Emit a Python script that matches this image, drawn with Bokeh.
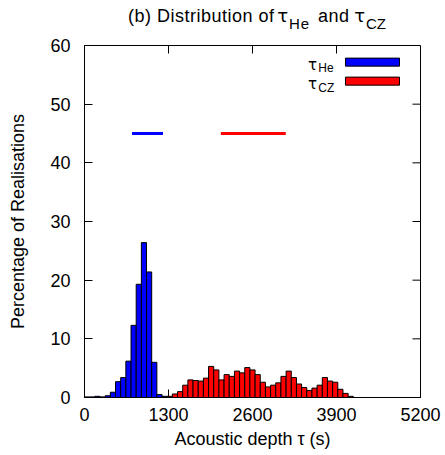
import numpy as np
from bokeh.plotting import figure
from bokeh.layouts import column
from bokeh.models import Range1d, FixedTicker, Label, ColumnDataSource, Div
from bokeh.embed import file_html
from bokeh.resources import INLINE

# ---- data (percentage of realisations per 80 s bin) ----
bin_width = 80
blue_start = 0
tau_he_pct = [0.1, 0.1, 0.2, 0.1, 0.3, 0.9, 2.7, 3.4, 6.2, 12.3, 19.3, 26.4,
              21.4, 6.0, 0.5, 0.2]
red_start = 1280
tau_cz_pct = [0.2, 0.6, 1.0, 2.1, 3.0, 2.9, 2.8, 3.3, 5.3, 4.7, 3.0, 3.9,
              3.6, 4.5, 4.2, 5.1, 4.7, 3.9, 2.6, 1.8, 2.1, 2.5, 3.6, 4.5,
              3.4, 2.3, 1.7, 1.2, 1.6, 2.1, 3.4, 2.8, 2.6, 1.4, 0.7, 0.2,
              0.0, 0.0, 0.0, 0.0, 0.0, 0.0, 0.0, 0.0, 0.0, 0.0, 0.0, 0.0, 0.0]
tau_he_interval = [735, 1215]
tau_cz_interval = [2110, 3115]
interval_level = 45
x_ticks = [0, 1300, 2600, 3900, 5200]
y_ticks = [0, 10, 20, 30, 40, 50, 60]
x_max = 5200
y_max = 60

FONT = "Liberation Sans"
TAU_FONT = "DejaVu Sans"

def edges(start, n):
    left = start + bin_width * np.arange(n)
    return left, left + bin_width

bl, br = edges(blue_start, len(tau_he_pct))
rl, rr = edges(red_start, len(tau_cz_pct))
blue_src = ColumnDataSource(dict(left=bl, right=br, top=tau_he_pct, bottom=[0] * len(bl)))
red_src = ColumnDataSource(dict(left=rl, right=rr, top=tau_cz_pct, bottom=[0] * len(rl)))

p = figure(width=445, height=419, x_range=Range1d(0, x_max), y_range=Range1d(0, y_max),
           output_backend="svg", toolbar_location=None, title=None,
           min_border_left=84, min_border_right=25, min_border_top=9, min_border_bottom=58)
p.xgrid.visible = False
p.ygrid.visible = False
p.outline_line_color = "black"
p.outline_line_width = 1
p.background_fill_color = "white"

for ax, ticks in ((p.xaxis[0], x_ticks), (p.yaxis[0], y_ticks)):
    ax.ticker = FixedTicker(ticks=ticks)
    ax.major_tick_in = 8
    ax.major_tick_out = 0
    ax.minor_tick_in = 0
    ax.minor_tick_out = 0
    ax.axis_line_color = "black"
    ax.major_tick_line_color = "black"
    ax.major_label_text_font = FONT
    ax.major_label_text_font_size = "18px"
    ax.major_label_text_color = "black"
    ax.axis_label_text_font = FONT
    ax.axis_label_text_font_size = "18px"
    ax.axis_label_text_font_style = "normal"
    ax.axis_label_text_color = "black"

p.xaxis[0].axis_label = "Acoustic depth τ (s)"
p.yaxis[0].axis_label = "Percentage of Realisations"
p.xaxis[0].major_label_standoff = 10
p.xaxis[0].axis_label_standoff = 5
p.yaxis[0].major_label_standoff = 14
p.yaxis[0].axis_label_standoff = 19

# mirrored inward ticks on top and right edges
tick_len_y = 8 * y_max / 352.0
tick_len_x = 8 * x_max / 336.0
p.segment(x0=x_ticks, x1=x_ticks, y0=[y_max] * len(x_ticks), y1=[y_max - tick_len_y] * len(x_ticks),
          line_color="black", line_width=1)
p.segment(x0=[x_max] * len(y_ticks), x1=[x_max - tick_len_x] * len(y_ticks), y0=y_ticks, y1=y_ticks,
          line_color="black", line_width=1)

rb = p.quad(left="left", right="right", top="top", bottom="bottom", source=blue_src,
            fill_color="#0000ff", line_color="black", line_width=1)
rr_ = p.quad(left="left", right="right", top="top", bottom="bottom", source=red_src,
             fill_color="#ff0000", line_color="black", line_width=1)
rb.level = "overlay"
rr_.level = "overlay"

p.segment(x0=[tau_he_interval[0]], x1=[tau_he_interval[1]], y0=[interval_level], y1=[interval_level],
          line_color="#0000ff", line_width=3)
p.segment(x0=[tau_cz_interval[0]], x1=[tau_cz_interval[1]], y0=[interval_level], y1=[interval_level],
          line_color="#ff0000", line_width=3)

def lab(x, y, text, size, align="left", font=FONT):
    p.add_layout(Label(x=x, y=y, text=text, text_font=font, text_font_size=size,
                       text_align=align, text_baseline="alphabetic", text_color="black"))

# legend (key text on the left, swatch on the right)
lab(3600, 56.74, "τ", "15px", "right", TAU_FONT)
lab(3617, 56.09, "He", "12px")
lab(3600, 53.41, "τ", "15px", "right", TAU_FONT)
lab(3617, 52.73, "CZ", "12px")
p.quad(left=[4039], right=[4875], bottom=[56.48], top=[57.85],
       fill_color="#0000ff", line_color="black", line_width=1)
p.quad(left=[4039], right=[4875], bottom=[53.24], top=[54.61],
       fill_color="#ff0000", line_color="black", line_width=1)

# title with subscripts
base = "position:absolute; white-space:nowrap; color:black; font-family:'Liberation Sans'; line-height:1;"
tau = "position:absolute; white-space:nowrap; color:black; font-family:'DejaVu Sans'; line-height:1;"
title_html = (
    '<div style="position:relative; width:445px; height:36px;">'
    f'<span style="{base} font-size:18px; letter-spacing:0.5px; left:128px; top:7px;">(b) Distribution of</span>'
    f'<span style="{tau} font-size:18px; right:157px; top:7px;">τ</span>'
    f'<span style="{base} font-size:15px; letter-spacing:0.8px; left:289px; top:16px;">He</span>'
    f'<span style="{base} font-size:18px; letter-spacing:0.5px; left:318px; top:7px;">and</span>'
    f'<span style="{tau} font-size:18px; right:80px; top:7px;">τ</span>'
    f'<span style="{base} font-size:15px; left:366px; top:16px;">CZ</span>'
    '</div>'
)
title = Div(text=title_html, width=445, height=36, margin=(0, 0, 0, 0))

layout = column(title, p, spacing=0, margin=(0, 0, 0, 0))
open("out.html", "w").write(file_html(layout, INLINE))
